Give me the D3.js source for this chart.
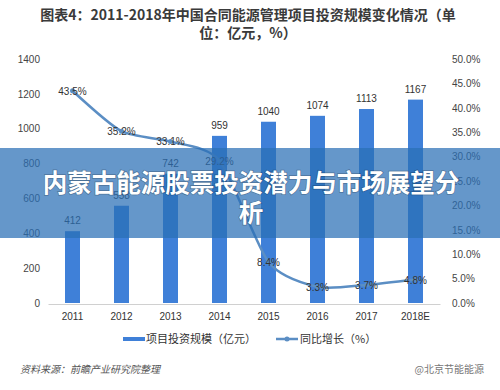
<!DOCTYPE html>
<html>
<head>
<meta charset="utf-8">
<script src="https://cdn.jsdelivr.net/npm/d3@7"></script>
<style>
  body { margin: 0; background: #fff; }
  svg { display: block; font-family: "Noto Sans CJK SC", "Noto Sans", sans-serif; }
</style>
</head>
<body>
<svg width="500" height="390"></svg>
<script>
const years = ["2011", "2012", "2013", "2014", "2015", "2016", "2017", "2018E"];
const invest = [412, 558, 742, 959, 1040, 1074, 1113, 1167];
const growth = [43.5, 35.2, 33.1, 29.2, 8.4, 3.3, 3.7, 4.8];
const leftTicks = [0, 200, 400, 600, 800, 1000, 1200, 1400];
const rightTicks = [0, 5, 10, 15, 20, 25, 30, 35, 40, 45, 50];

const svg = d3.select("svg");

const x = d3.scaleBand().domain(years).range([48, 440]);
const yL = d3.scaleLinear().domain([0, 1400]).range([303, 59]);
const yR = d3.scaleLinear().domain([0, 50]).range([303, 59]);

// title
const title = svg.append("g")
  .attr("fill", "#3a3a3a")
  .attr("font-weight", "bold")
  .attr("font-size", 14)
  .attr("text-anchor", "middle");
title.append("text").attr("x", 248).attr("y", 20).text("图表4：2011-2018年中国合同能源管理项目投资规模变化情况（单");
title.append("text").attr("x", 248).attr("y", 38).text("位：亿元，%）");

// left axis
const axL = svg.append("g")
  .attr("transform", "translate(40,0)")
  .call(d3.axisLeft(yL).tickValues(leftTicks).tickSize(0).tickPadding(0).tickFormat(d3.format("d")));
axL.select(".domain").remove();
axL.selectAll("text").attr("font-size", 10).attr("fill", "#444").attr("font-family", "Liberation Sans, sans-serif");

// right axis
const axR = svg.append("g")
  .attr("transform", "translate(452,0)")
  .call(d3.axisRight(yR).tickValues(rightTicks).tickSize(0).tickPadding(0)
    .tickFormat(d => d3.format(".1f")(d) + "%"));
axR.select(".domain").remove();
axR.selectAll("text").attr("font-size", 10).attr("fill", "#444").attr("font-family", "Liberation Sans, sans-serif");

// x axis
const axX = svg.append("g")
  .attr("transform", "translate(0,304)")
  .call(d3.axisBottom(x).tickSize(0).tickPadding(9));
axX.select(".domain").attr("stroke", "#d0d0d0");
axX.selectAll("text").attr("font-size", 10).attr("fill", "#333").attr("font-family", "Liberation Sans, sans-serif");

// bars
const bw = 15;
svg.append("g").selectAll("rect")
  .data(invest)
  .join("rect")
  .attr("x", (d, i) => x(years[i]) + x.bandwidth() / 2 - bw / 2)
  .attr("y", d => yL(d))
  .attr("width", bw)
  .attr("height", d => yL(0) - yL(d))
  .attr("fill", "#3f80d8");

svg.append("g").selectAll("text")
  .data(invest)
  .join("text")
  .attr("x", (d, i) => x(years[i]) + x.bandwidth() / 2)
  .attr("y", d => yL(d) - 7)
  .attr("text-anchor", "middle")
  .attr("font-size", 10)
  .attr("fill", "#333")
  .attr("font-family", "Liberation Sans, sans-serif")
  .text(d => d);

// growth line
const line = d3.line()
  .x((d, i) => x(years[i]) + x.bandwidth() / 2)
  .y(d => yR(d))
  .curve(d3.curveCardinal.tension(0.3));

svg.append("path")
  .datum(growth)
  .attr("d", line)
  .attr("fill", "none")
  .attr("stroke", "#5b8ec4")
  .attr("stroke-width", 2.5);

svg.append("g").selectAll("circle")
  .data(growth)
  .join("circle")
  .attr("cx", (d, i) => x(years[i]) + x.bandwidth() / 2)
  .attr("cy", d => yR(d))
  .attr("r", 2.5)
  .attr("fill", "#5b8ec4");

svg.append("g").selectAll("text")
  .data(growth)
  .join("text")
  .attr("x", (d, i) => x(years[i]) + x.bandwidth() / 2)
  .attr("y", d => yR(d) + 4)
  .attr("text-anchor", "middle")
  .attr("font-size", 10)
  .attr("fill", "#333")
  .attr("font-family", "Liberation Sans, sans-serif")
  .text(d => d3.format(".1f")(d) + "%");

// legend
const leg = svg.append("g").attr("font-size", 11).attr("fill", "#333");
leg.append("rect").attr("x", 123).attr("y", 337).attr("width", 22).attr("height", 4).attr("fill", "#3f80d8");
leg.append("text").attr("x", 146).attr("y", 343).text("项目投资规模（亿元）");
leg.append("line").attr("x1", 276).attr("x2", 298).attr("y1", 339).attr("y2", 339)
  .attr("stroke", "#5b8ec4").attr("stroke-width", 2.5);
leg.append("circle").attr("cx", 287).attr("cy", 339).attr("r", 2.5).attr("fill", "#5b8ec4");
leg.append("text").attr("x", 300).attr("y", 343).text("同比增长（%）");

// source
svg.append("text")
  .attr("x", 20).attr("y", 373)
  .attr("font-size", 10).attr("fill", "#555")
  .attr("font-style", "italic")
  .text("资料来源：前瞻产业研究院整理");
svg.append("text")
  .attr("x", 484).attr("y", 373)
  .attr("text-anchor", "end")
  .attr("font-size", 10).attr("fill", "#777")
  .text("@北京节能能源");

// overlay banner
svg.append("rect")
  .attr("x", 0).attr("y", 148).attr("width", 500).attr("height", 90)
  .attr("fill", "#2a6fb5").attr("fill-opacity", 0.72);

const banner = svg.append("g")
  .attr("fill", "#fff")
  .attr("font-weight", "bold")
  .attr("font-size", 24.5)
  .attr("text-anchor", "middle")
  .style("paint-order", "stroke")
  .attr("stroke", "rgba(0,0,0,0.25)")
  .attr("stroke-width", 1.5);
banner.append("text").attr("x", 251).attr("y", 192).text("内蒙古能源股票投资潜力与市场展望分");
banner.append("text").attr("x", 251).attr("y", 222).text("析");
</script>
</body>
</html>
